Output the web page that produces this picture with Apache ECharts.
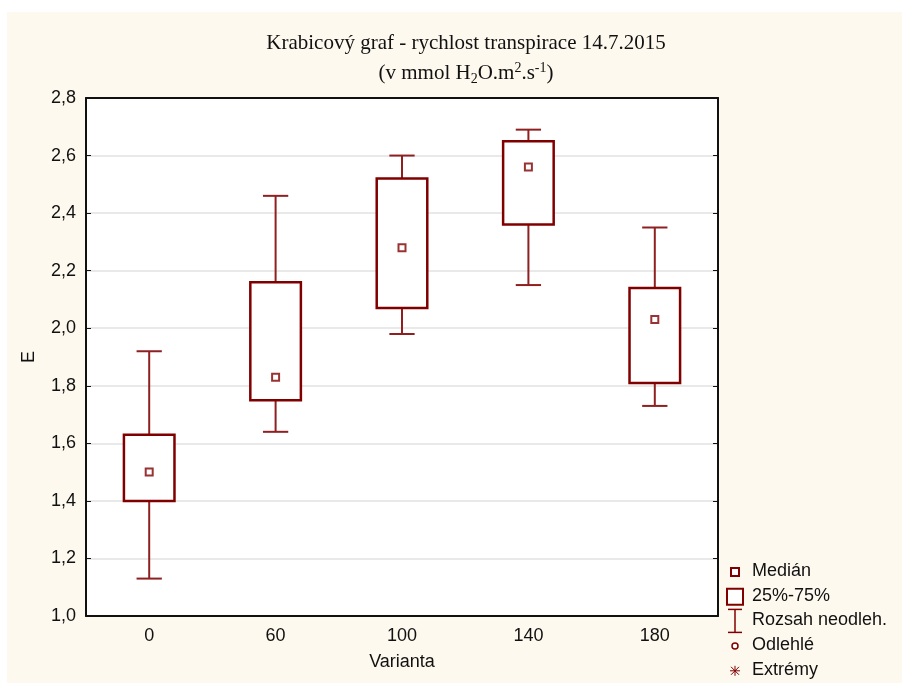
<!DOCTYPE html>
<html>
<head>
<meta charset="utf-8">
<script src="https://cdn.jsdelivr.net/npm/echarts@6/dist/echarts.min.js"></script>
<style>
  html, body { margin: 0; padding: 0; background: #ffffff; }
  #chart { width: 902px; height: 683px; }
</style>
</head>
<body>
<div id="chart"></div>
<script>
// Transpiration rate by variant, 14.7.2015
var categories = ['0', '60', '100', '140', '180'];
var whiskerLow  = [1.13, 1.64, 1.98, 2.15, 1.73];
var q1          = [1.40, 1.75, 2.07, 2.36, 1.81];
var median      = [1.50, 1.83, 2.28, 2.56, 2.03];
var q3          = [1.63, 2.16, 2.52, 2.65, 2.14];
var whiskerHigh = [1.92, 2.46, 2.60, 2.69, 2.35];
var legendLabels = ['Medián', '25%-75%', 'Rozsah neodleh.', 'Odlehlé', 'Extrémy'];

var boxColor = '#800000';
var whiskerColor = '#8f2020';
var cream = '#fdf9ef';
var sansFamily = '"Liberation Sans", Arial, sans-serif';
var serifFamily = '"Liberation Serif", "Times New Roman", serif';

var boxData = categories.map(function (c, i) {
  return [i, whiskerLow[i], q1[i], q3[i], whiskerHigh[i]];
});
var medianData = categories.map(function (c, i) { return [i, median[i]]; });

function renderBox(params, api) {
  var idx = api.value(0);
  var pLow = api.coord([idx, api.value(1)]);
  var pQ1 = api.coord([idx, api.value(2)]);
  var pQ3 = api.coord([idx, api.value(3)]);
  var pHigh = api.coord([idx, api.value(4)]);
  var band = api.size([1, 0])[0];
  var w = band * 0.4;
  var cap = w * 0.5;
  var x = pQ1[0];
  var lineStyle = { stroke: whiskerColor, lineWidth: 2 };
  return {
    type: 'group',
    children: [
      { type: 'line', shape: { x1: x, y1: pHigh[1], x2: x, y2: pQ3[1] }, style: lineStyle },
      { type: 'line', shape: { x1: x, y1: pQ1[1], x2: x, y2: pLow[1] }, style: lineStyle },
      { type: 'line', shape: { x1: x - cap / 2, y1: pHigh[1], x2: x + cap / 2, y2: pHigh[1] }, style: lineStyle },
      { type: 'line', shape: { x1: x - cap / 2, y1: pLow[1], x2: x + cap / 2, y2: pLow[1] }, style: lineStyle },
      { type: 'rect', shape: { x: x - w / 2, y: pQ3[1], width: w, height: pQ1[1] - pQ3[1] },
        style: { fill: '#ffffff', stroke: boxColor, lineWidth: 2.5 } }
    ]
  };
}

// legend drawn beside the plot frame
var lx = 735, ly0 = 572, lstep = 24.7;
var legendGraphics = [];
legendLabels.forEach(function (t, i) {
  legendGraphics.push({
    type: 'text', left: lx + 17, top: ly0 + i * lstep - 10,
    style: { text: t, font: '18px ' + sansFamily, fill: '#111111' }
  });
});
var ay = ly0 + 4 * lstep;
legendGraphics.push(
  { type: 'rect', shape: { x: lx - 4, y: ly0 - 4, width: 8, height: 8 },
    style: { fill: '#ffffff', stroke: boxColor, lineWidth: 2 } },
  { type: 'rect', shape: { x: lx - 8, y: ly0 + lstep - 8, width: 16, height: 16 },
    style: { fill: '#ffffff', stroke: boxColor, lineWidth: 2 } },
  { type: 'line', shape: { x1: lx, y1: ly0 + 2 * lstep - 12, x2: lx, y2: ly0 + 2 * lstep + 11 },
    style: { stroke: boxColor, lineWidth: 1.5 } },
  { type: 'line', shape: { x1: lx - 7, y1: ly0 + 2 * lstep - 12, x2: lx + 7, y2: ly0 + 2 * lstep - 12 },
    style: { stroke: boxColor, lineWidth: 1.5 } },
  { type: 'line', shape: { x1: lx - 7, y1: ly0 + 2 * lstep + 11, x2: lx + 7, y2: ly0 + 2 * lstep + 11 },
    style: { stroke: boxColor, lineWidth: 1.5 } },
  { type: 'circle', shape: { cx: lx, cy: ly0 + 3 * lstep, r: 3 },
    style: { fill: '#ffffff', stroke: boxColor, lineWidth: 1.5 } },
  { type: 'line', shape: { x1: lx, y1: ay - 5, x2: lx, y2: ay + 5 }, style: { stroke: boxColor, lineWidth: 1 } },
  { type: 'line', shape: { x1: lx - 5, y1: ay, x2: lx + 5, y2: ay }, style: { stroke: boxColor, lineWidth: 1 } },
  { type: 'line', shape: { x1: lx - 4, y1: ay - 4, x2: lx + 4, y2: ay + 4 }, style: { stroke: boxColor, lineWidth: 1 } },
  { type: 'line', shape: { x1: lx - 4, y1: ay + 4, x2: lx + 4, y2: ay - 4 }, style: { stroke: boxColor, lineWidth: 1 } }
);

var chart = echarts.init(document.getElementById('chart'), null, { renderer: 'canvas' });
chart.setOption({
  backgroundColor: '#ffffff',
  animation: false,
  title: {
    text: 'Krabicový graf - rychlost transpirace 14.7.2015',
    subtext: '{a|(v mmol H}{sub|2}{a|O.m}{sup|2}{a|.s}{sup|-1}{a|)}',
    left: 461,
    textAlign: 'center',
    top: 28,
    itemGap: 7,
    textStyle: { fontFamily: serifFamily, fontSize: 21, fontWeight: 'normal', color: '#111111' },
    subtextStyle: {
      rich: {
        a: { fontFamily: serifFamily, fontSize: 21, color: '#111111' },
        sub: { fontFamily: serifFamily, fontSize: 14, color: '#111111', padding: [11, 0, 0, 0] },
        sup: { fontFamily: serifFamily, fontSize: 14, color: '#111111', padding: [0, 0, 11, 0] }
      }
    }
  },
  graphic: [
    { type: 'rect', z: -10, silent: true, shape: { x: 7, y: 12, width: 895, height: 671 }, style: { fill: cream } }
  ].concat(legendGraphics),
  grid: { left: 86, right: 184, top: 98, bottom: 67, show: true, backgroundColor: '#ffffff', borderWidth: 0 },
  xAxis: [{
    type: 'category', data: categories, boundaryGap: true,
    name: 'Varianta', nameLocation: 'middle', nameGap: 37,
    nameTextStyle: { fontFamily: sansFamily, fontSize: 18, color: '#111111' },
    axisLine: { lineStyle: { color: '#111111', width: 2 } },
    axisTick: { inside: true, alignWithLabel: true, length: 5, lineStyle: { color: '#111111' } },
    axisLabel: { fontFamily: sansFamily, fontSize: 18, color: '#111111', margin: 11 },
    splitLine: { show: false }
  }, {
    type: 'category', data: categories, position: 'top', boundaryGap: true,
    axisLine: { lineStyle: { color: '#111111', width: 2 } },
    axisTick: { inside: true, alignWithLabel: true, length: 5, lineStyle: { color: '#111111' } },
    axisLabel: { show: false }
  }],
  yAxis: [{
    type: 'value', min: 1.0, max: 2.8, interval: 0.2,
    name: 'E', nameLocation: 'middle', nameGap: 48, nameRotate: 90,
    nameTextStyle: { fontFamily: sansFamily, fontSize: 18, color: '#111111' },
    axisLine: { show: true, lineStyle: { color: '#111111', width: 2 } },
    axisTick: { show: true, inside: true, length: 5, lineStyle: { color: '#111111' } },
    axisLabel: {
      fontFamily: sansFamily, fontSize: 18, color: '#111111', margin: 10,
      formatter: function (v) { return v.toFixed(1).replace('.', ','); }
    },
    splitLine: { show: true, lineStyle: { color: '#e2e2e2', width: 1.5 } }
  }, {
    type: 'value', min: 1.0, max: 2.8, interval: 0.2, position: 'right',
    axisLine: { show: true, lineStyle: { color: '#111111', width: 2 } },
    axisTick: { show: true, inside: true, length: 5, lineStyle: { color: '#111111' } },
    axisLabel: { show: false },
    splitLine: { show: false }
  }],
  series: [{
    type: 'custom', name: '25%-75%', renderItem: renderBox,
    encode: { x: 0, y: [1, 2, 3, 4] },
    data: boxData, z: 3
  }, {
    type: 'scatter', name: 'Medián', data: medianData,
    symbol: 'rect', symbolSize: 7,
    itemStyle: { color: '#ffffff', borderColor: boxColor, borderWidth: 2 },
    z: 4
  }]
});
</script>
</body>
</html>
